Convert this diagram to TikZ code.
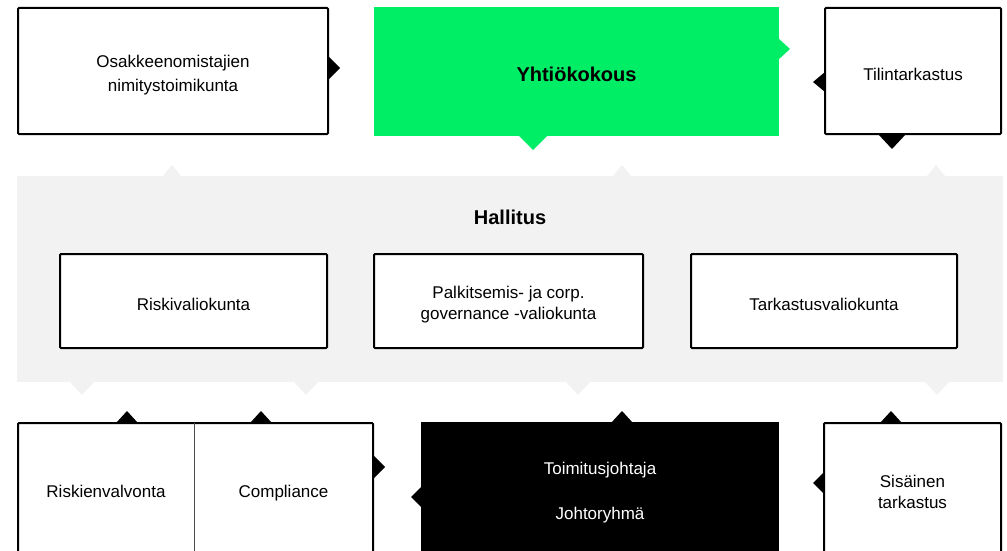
\documentclass[tikz,border=0pt]{standalone}
\usepackage{fontspec}
\setmainfont{Liberation Sans}

\definecolor{yhtiogreen}{RGB}{0,237,102}
\definecolor{hallitusgray}{RGB}{242,242,242}

\begin{document}
\begin{tikzpicture}[x=1pt,y=-1pt,
    box/.style={draw=black,line width=2pt,rounded corners=1pt,fill=white,inner sep=0pt},
    plain/.style={align=center,inner sep=0pt,font=\fontsize{17}{22}\selectfont},
    heading/.style={inner sep=0pt,font=\bfseries\fontsize{20}{24}\selectfont},
    notch/.style={fill=black}]
    \useasboundingbox (0,0) rectangle (1007,551);
    \clip (0,0) rectangle (1007,551);

    % top row
    \node[box,minimum width=310pt,minimum height=126pt] (osakk) at (173,71) {};
    \node[plain,font=\fontsize{17}{24}\selectfont] (osakkteksti) at ([yshift=-4pt]osakk.center) {Osakkeenomistajien\\nimitystoimikunta};
    \node[fill=yhtiogreen,inner sep=0pt,minimum width=405pt,minimum height=129pt] (yhtio) at (576.5,71.5) {};
    \node[heading] (yhtioteksti) at ([yshift=-3pt]yhtio.center) {Yhtiökokous};
    \node[box,minimum width=176pt,minimum height=126pt] (tilin) at (913,71) {};
    \node[plain] (tilinteksti) at ([yshift=-3pt]tilin.center) {Tilintarkastus};

    \fill[notch] (327,55) -- (340,68) -- (327,81) -- cycle;
    \fill[yhtiogreen] (778,38) -- (790,49) -- (778,60) -- cycle;
    \fill[yhtiogreen] (518,135) -- (533,150) -- (548,135) -- cycle;
    \fill[notch] (825,72) -- (813,82) -- (825,92) -- cycle;
    \fill[notch] (878,134) -- (892,149) -- (906,134) -- cycle;

    % hallitus
    \node[fill=hallitusgray,inner sep=0pt,minimum width=986pt,minimum height=206pt] (hallitus) at (510,279) {};
    \foreach \x in {172,622,936}
      \fill[hallitusgray] (\x-10,177) -- (\x,165) -- (\x+10,177) -- cycle;
    \foreach \x in {82,306,578,937}
      \fill[hallitusgray] (\x-13,381) -- (\x,395) -- (\x+13,381) -- cycle;
    \node[heading] (hallotsikko) at (510,217) {Hallitus};

    \node[box,minimum width=267pt,minimum height=94pt] (riskivk) at (193.5,301) {};
    \node[plain] (riskivkteksti) at ([yshift=-3pt]riskivk.center) {Riskivaliokunta};
    \node[box,minimum width=269pt,minimum height=94pt] (palkvk) at (508.5,301) {};
    \node[plain,font=\fontsize{17}{21}\selectfont] (palkvkteksti) at ([yshift=-4pt]palkvk.center) {Palkitsemis- ja corp.\\governance -valiokunta};
    \node[box,minimum width=266pt,minimum height=94pt] (tarkvk) at (824,301) {};
    \node[plain] (tarkvkteksti) at ([yshift=-3pt]tarkvk.center) {Tarkastusvaliokunta};

    % bottom row
    \node[box,minimum width=355pt,minimum height=137pt] (valvonta) at (195.5,491.5) {};
    \node[plain,minimum width=176pt,minimum height=137pt] (riskien) at (106,491.5) {Riskienvalvonta};
    \node[plain] (compl) at (283.5,493) {Compliance};
    \draw[line width=0.8pt,black!70] (riskien.north east) -- (riskien.south east);

    \node[plain,fill=black,text=white,minimum width=358pt,minimum height=142pt] (toimitus) at (600,493) {Toimitusjohtaja\\[23pt]Johtoryhmä};
    \node[box,minimum width=177pt,minimum height=139pt] (sisainen) at (912.5,492.5) {};
    \node[plain,font=\fontsize{17}{21}\selectfont] (sisainenteksti) at (912.5,492) {Sisäinen\\tarkastus};

    \foreach \x in {127,261,622,891}
      \fill[notch] (\x-11,423) -- (\x,411) -- (\x+11,423) -- cycle;
    \fill[notch] (373,455) -- (385,467) -- (373,479) -- cycle;
    \fill[notch] (422,486) -- (411,497) -- (422,508) -- cycle;
    \fill[notch] (824,472) -- (813,483) -- (824,494) -- cycle;
  \end{tikzpicture}
\end{document}
